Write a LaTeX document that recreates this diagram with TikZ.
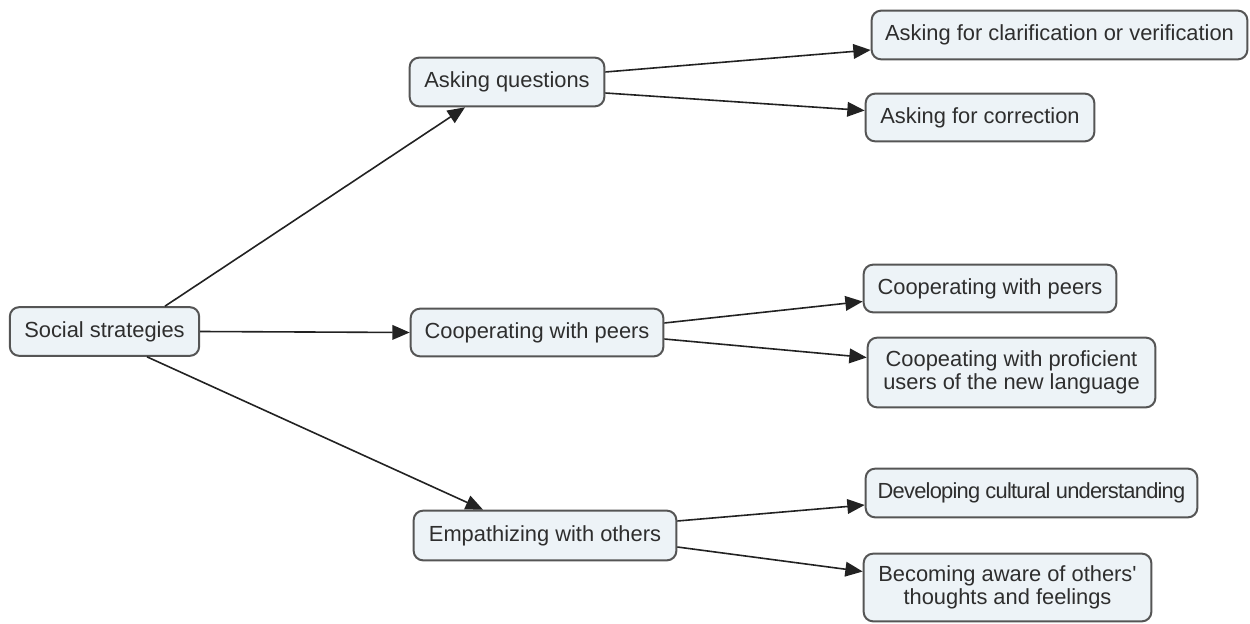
\documentclass[tikz,border=0pt]{standalone}
\usepackage{fontspec}
\setmainfont{Liberation Sans}[Ligatures=TeXOff]
\usetikzlibrary{arrows.meta,calc}
\definecolor{boxfill}{HTML}{EDF3F7}
\definecolor{boxline}{HTML}{555555}
\definecolor{boxtext}{HTML}{2E2E2E}
\definecolor{linkline}{HTML}{222222}
\begin{document}
\begin{tikzpicture}[x=0.75pt,y=-0.75pt,
  concept/.style={draw=boxline,fill=boxfill,line width=1.5pt,rounded corners=7pt,
    text=boxtext,font=\fontsize{16.4}{17.5}\selectfont,align=center,inner sep=0pt},
  link/.style={draw=linkline,line width=1.2pt,
    -{Triangle[length=13pt,width=11pt]}}]
\useasboundingbox (0,0) rectangle (1250,624);

% first column
\node[concept,minimum width=142pt,minimum height=36.5pt] (ss) at (104.5,331.5) {Social strategies};

% second column
\node[concept,minimum width=146pt,minimum height=36.5pt] (aq) at (507,82) {Asking questions};
\node[concept,minimum width=189.5pt,minimum height=35.75pt] (cp) at (537,332.5) {Cooperating with peers};
\node[concept,minimum width=197pt,minimum height=37.25pt] (ew) at (545,535.5) {Empathizing with others};

% third column
\node[concept,minimum width=281.75pt,minimum height=36.5pt] (ac) at (1059.5,35) {Asking for clarification or verification};
\node[concept,minimum width=171.5pt,minimum height=35.75pt] (acor) at (980,117.5) {Asking for correction};
\node[concept,minimum width=189.5pt,minimum height=35.75pt] (cp2) at (990,288.5) {Cooperating with peers};
\node[concept,minimum width=215.75pt,minimum height=52.25pt] (prof) at (1011.5,372.5) {Coopeating with proficient\\users of the new language};
\node[concept,minimum width=248.75pt,minimum height=36.5pt] (dev) at (1031.5,493) {\addfontfeature{LetterSpace=-3.5}Developing cultural understanding};
\node[concept,minimum width=215.75pt,minimum height=50.75pt] (beco) at (1007.5,587.5) {Becoming aware of others'\\thoughts and feelings};

% links from the root
\draw[link] ($(ss.north)+(60.5,0)$) -- ($(aq.south)+(-42,0)$);
\draw[link] (ss.east) -- (cp.west);
\draw[link] ($(ss.south)+(42.5,0)$) -- ($(ew.north)+(-62,0)$);

% links to the leaves
\draw[link] ($(aq.east)+(0,-10)$) -- ($(ac.west)+(0,15)$);
\draw[link] ($(aq.east)+(0,11)$) -- ($(acor.west)+(0,-7)$);
\draw[link] ($(cp.east)+(0,-9.5)$) -- ($(cp2.west)+(0,13)$);
\draw[link] ($(cp.east)+(0,6.5)$) -- ($(prof.west)+(0,-15)$);
\draw[link] ($(ew.east)+(0,-14.5)$) -- ($(dev.west)+(0,12)$);
\draw[link] ($(ew.east)+(0,11.5)$) -- ($(beco.west)+(0,-16)$);
\end{tikzpicture}
\end{document}
